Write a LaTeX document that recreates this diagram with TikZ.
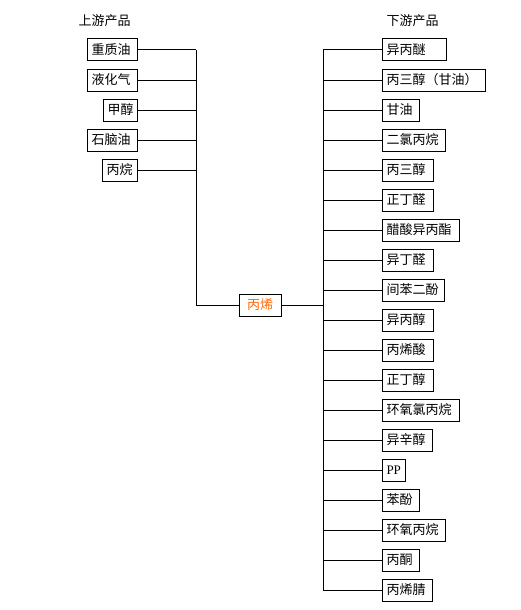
\documentclass[tikz,border=0pt]{standalone}
\usepackage{fontspec}
\newfontfamily\cjk{Noto Sans CJK SC}
\newfontfamily\ppfont{Liberation Serif}
\definecolor{propc}{HTML}{FF6600}
\begin{document}
\begin{tikzpicture}[x=1pt,y=-1pt,
  every node/.style={font=\cjk\fontsize{13}{14}\selectfont},
  box/.style={draw,line width=1pt,minimum height=22pt,inner ysep=0pt,inner xsep=4pt,align=left},
  conn/.style={line width=1pt},
  title/.style={inner sep=0pt}]
\useasboundingbox (0,0) rectangle (520,610);
% titles
\node[title] (tl) at (104.5,21) {上游产品};
\node[title] (tr) at (412.5,21) {下游产品};
% coordinates of trunks
\coordinate (lt) at (196,50);
\coordinate (rt) at (323,50);
\coordinate (rb) at (323,590);
% upstream
\foreach \t/\xl/\w/\y [count=\i] in {重质油/87/50/50, 液化气/87/50/80, 甲醇/103/34/110, 石脑油/87/50/140, 丙烷/102/35/170}{
  \node[box,anchor=west,text width={\w-8}] (l\i) at (\xl,\y) {\t};
  \draw[conn] (l\i.east) -- (l\i.east -| lt);
}
% propylene
\node[box,text=propc,minimum width=42pt,align=center] (p) at (260,305) {丙烯};
\draw[conn] (lt) |- (p.west);
\draw[conn] (p.east) -- (p.east -| rt);
\draw[conn] (rt) -- (rb);
% downstream
\foreach \t/\w [count=\i from 0] in {异丙醚/64, 丙三醇（甘油）/103, 甘油/37, 二氯丙烷/63, 丙三醇/51, 正丁醛/51, 醋酸异丙酯/77, 异丁醛/51, 间苯二酚/62, 异丙醇/51, 丙烯酸/51, 正丁醇/51, 环氧氯丙烷/77, 异辛醇/50, {\ppfont PP}/23, 苯酚/37, 环氧丙烷/63, 丙酮/37, 丙烯腈/50}{
  \node[box,anchor=west,text width={\w-8}] (r\i) at (382,{50+30*\i}) {\t};
  \draw[conn] (r\i.west) -- (r\i.west -| rt);
}
\end{tikzpicture}
\end{document}
